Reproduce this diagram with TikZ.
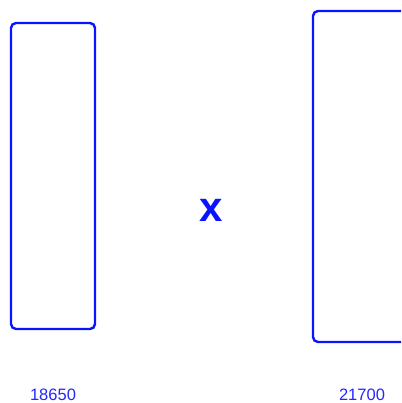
\documentclass[tikz,border=0pt]{standalone}
\usepackage{fontspec}
\setmainfont{Liberation Sans}
\usetikzlibrary{positioning}
\definecolor{cellblue}{HTML}{0A14FF}
\definecolor{textblue}{HTML}{2626FF}
\tikzset{
  cell/.style={draw=cellblue,line width=2.4pt,rounded corners=5pt,
               inner sep=0pt,fill=white},
  celllabel/.style={font=\fontsize{16.5}{18}\selectfont,text=textblue},
  times/.style={font=\fontsize{42}{44}\selectfont\bfseries,text=cellblue}
}
\begin{document}
\begin{tikzpicture}[x=1pt,y=-1pt]
  \useasboundingbox (0,0) rectangle (401,403);
  \clip (0,0) rectangle (401,403);
  % the two cells, drawn to scale
  \node[cell,minimum width=84pt,minimum height=306pt] (small) at (53,176) {};
  \node[cell,minimum width=98pt,minimum height=331pt] (big) at (362,176.5) {};
  % the sign between them
  \node[times] (sign) at (211,210) {x};
  % names under the cells
  \node[celllabel] (smallname) at (53,395) {18650};
  \node[celllabel] (bigname) at (362,395) {21700};
\end{tikzpicture}
\end{document}
